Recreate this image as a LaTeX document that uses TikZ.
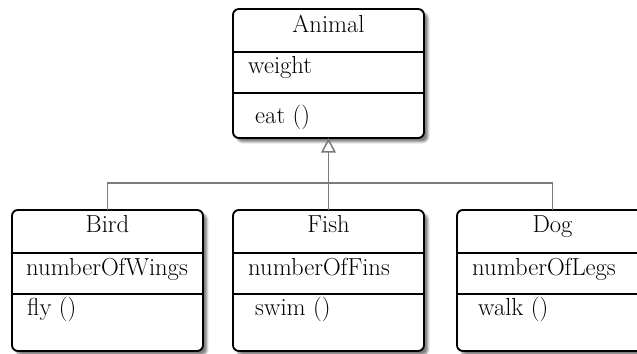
\documentclass[tikz,border=0pt]{standalone}
\usetikzlibrary{arrows.meta,calc,shadows.blur}
\definecolor{linkgray}{HTML}{7A7A7A}
\tikzset{
  umlbox/.style={draw=black, line width=1.6pt, rounded corners=5pt, fill=white,
    inner sep=0pt, outer sep=0pt, anchor=north west,
    minimum width=5.73cm, blur shadow={shadow xshift=3.4pt, shadow yshift=-3.4pt,
    shadow blur steps=6, shadow opacity=50}},
  sep/.style={draw=black, line width=1.5pt},
  conn/.style={draw=linkgray, line width=1.3pt},
  txt/.style={inner sep=0pt, font=\fontsize{21}{24}\selectfont},
}
\begin{document}
\begin{tikzpicture}[x=0.03cm, y=-0.03cm]
  \useasboundingbox (0,0) rectangle (637,353);
  \clip (0,0) rectangle (637,353);

  % class boxes
  \node[umlbox, minimum height=3.87cm] (animal) at (233,9) {};
  \node[umlbox, minimum height=4.23cm] (bird) at (12,210) {};
  \node[umlbox, minimum height=4.23cm] (fish) at (233,210) {};
  \node[umlbox, minimum height=4.23cm] (dog) at (457,210) {};

  % compartment separators
  \foreach \b in {animal,bird,fish,dog}{
    \draw[sep] ($(\b.north west)+(0,43)$) -- ($(\b.north east)+(0,43)$);
    \draw[sep] ($(\b.north west)+(0,84)$) -- ($(\b.north east)+(0,84)$);
  }

  % class names
  \node[txt, anchor=base] (animalname) at (328.5,32) {Animal};
  \node[txt, anchor=base] (birdname) at (107.5,232) {Bird};
  \node[txt, anchor=base] (fishname) at (328.5,232) {Fish};
  \node[txt, anchor=base] (dogname) at (552.5,232) {Dog};

  % attributes
  \node[txt, anchor=base west] (animalattr) at (248,73) {weight};
  \node[txt, anchor=base west] (birdattr) at (26,275) {numberOfWings};
  \node[txt, anchor=base west] (fishattr) at (248,275) {numberOfFins};
  \node[txt, anchor=base west] (dogattr) at (472,275) {numberOfLegs};

  % operations
  \node[txt, anchor=base west] (animalop) at (255,123) {eat ()};
  \node[txt, anchor=base west] (birdop) at (27,315) {fly ()};
  \node[txt, anchor=base west] (fishop) at (255,315) {swim ()};
  \node[txt, anchor=base west] (dogop) at (478,315) {walk ()};

  % generalisation links
  \coordinate (bus) at (fish.north |- 0,183);
  \draw[conn] (bird.north) |- (bus);
  \draw[conn] (dog.north) |- (bus);
  \draw[conn] (fish.north) -- (bus);
  \draw[conn, -{Triangle[open, length=12.5pt, width=12.5pt, line width=1.3pt]}]
    (bus) -- (animal.south);
\end{tikzpicture}
\end{document}
